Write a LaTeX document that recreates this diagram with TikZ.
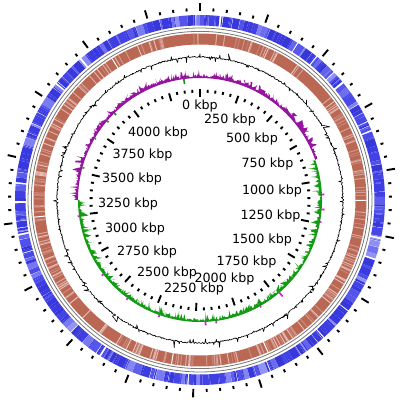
\documentclass[tikz,border=0pt]{standalone}
\usepackage{fontspec}
\setmainfont{DejaVu Sans}
\definecolor{skewpos}{RGB}{150,20,160}
\definecolor{skewneg}{RGB}{20,155,20}
\definecolor{skewdot}{RGB}{205,40,205}
\definecolor{ringgray}{RGB}{120,120,120}
\definecolor{brownbase}{RGB}{186,104,84}
\begin{document}
\begin{tikzpicture}[x=1pt,y=1pt,
  lbl/.style={font=\fontsize{12.7}{14}\selectfont, inner sep=0pt, anchor=center},
  tickmark/.style={line width=1.9pt},
  gcline/.style={black, line width=0.6pt, line join=round},
  backbone/.style={ringgray, line width=0.8pt}]
\useasboundingbox[fill=white] (-200,-200) rectangle (200,200);

% ---------- blue feature ring ----------
\pgfmathsetseed{11}
\gdef\curpos{0}
\foreach \i in {1,...,440}{%
  \pgfmathsetmacro\blen{0.3+2.4*rnd^2}%
  \pgfmathsetmacro\bgap{(rnd<0.2)*(0.12+0.6*rnd^3)}%
  \pgfmathsetmacro\bt{rnd}%
  \pgfmathsetmacro\bs{\curpos}%
  \pgfmathsetmacro\be{min(\curpos+\blen,360)}%
  \pgfmathtruncatemacro\brg{55+95*\bt^3}%
  \pgfmathtruncatemacro\bbb{215+30*\bt}%
  \definecolor{bseg}{RGB}{\brg,\brg,\bbb}%
  \ifdim\bs pt<359.9pt
    \pgfmathsetmacro\as{90-\bs}\pgfmathsetmacro\ae{90-\be}%
    \draw[bseg, line width=10.5pt] (\as:179.75) arc[start angle=\as, end angle=\ae, radius=179.75];%
  \fi
  \pgfmathsetmacro\np{\curpos+\blen+\bgap}%
  \xdef\curpos{\np}%
}

% ---------- backbone circles ----------
\draw[backbone] (0,0) circle[radius=168.6];
\draw[backbone] (0,0) circle[radius=172];

% ---------- brown feature ring ----------
\draw[brownbase, line width=11pt] (0,0) circle[radius=161];
\pgfmathsetseed{5}
\foreach \i in {0,...,1028}{%
  \pgfmathsetmacro\as{90-\i*0.35}%
  \pgfmathsetmacro\ae{\as-0.35}%
  \pgfmathsetmacro\bs{rnd}%
  \pgfmathsetmacro\gp{rnd}%
  \pgfmathtruncatemacro\cr{195+40*\gp}%
  \pgfmathtruncatemacro\cg{125+75*\gp}%
  \pgfmathtruncatemacro\cb{110+85*\gp}%
  \definecolor{rseg}{RGB}{\cr,\cg,\cb}%
  \ifdim\bs pt>0.993pt
    \draw[white, line width=11pt] (\as:161) arc[start angle=\as, end angle=\ae, radius=161];%
  \else\ifdim\bs pt>0.78pt
    \draw[rseg, line width=11pt] (\as:161) arc[start angle=\as, end angle=\ae, radius=161];%
  \fi\fi
}

% ---------- GC content ----------
\pgfmathsetseed{3}
\draw[gcline] plot[domain=90:-270, samples=1400]
  (\x:{143+1.4*(rnd-0.5)+(rnd<0.06)*(8*rnd-4)+(rnd<0.015)*(16*rnd-8)}) -- cycle;

% ---------- GC skew ----------
\pgfmathsetseed{9}
\fill[skewpos] plot[domain=19:180, samples=460]
  (\x:{122+0.8+2.6*rnd+7*rnd^5}) -- (180:122)
  arc[start angle=180, end angle=19, radius=122] -- cycle;
\fill[skewneg] plot[domain=-180:19, samples=580]
  (\x:{122-0.8-2.6*rnd-7*rnd^5}) -- (19:122)
  arc[start angle=19, end angle=-180, radius=122] -- cycle;
\foreach \t/\h in {87/2.5, 94/3, 100/1.5, 139/5, 150/1.5, 172/2.5, 177/3.5, 199/2, 216/2, 232/2, 262/1.5}{%
  \pgfmathsetmacro\aa{90-\t}%
  \pgfmathsetmacro\ab{\aa-0.8}%
  \fill[skewdot] (\aa:122) -- (\aa:{122+\h}) -- (\ab:{122+\h}) -- (\ab:122) -- cycle;
}
\foreach \t/\h in {352/5, 315/2.5, 310/2, 300/1.5, 285/2}{%
  \pgfmathsetmacro\aa{90-\t}%
  \pgfmathsetmacro\ab{\aa-0.8}%
  \fill[skewneg] (\aa:122) -- (\aa:{122-\h}) -- (\ab:{122-\h}) -- (\ab:122) -- cycle;
}

% ---------- rulers ----------
\foreach \i in {0,...,88}{%
  \pgfmathsetmacro\ang{90-\i*4.04494}%
  \pgfmathtruncatemacro\ismaj{mod(\i,5)==0}%
  \ifnum\ismaj=1
    \draw[tickmark] (\ang:103) -- (\ang:111);
    \draw[tickmark] (\ang:189) -- (\ang:197.5);
  \else
    \draw[tickmark] (\ang:107.5) -- (\ang:110.5);
    \draw[tickmark] (\ang:189) -- (\ang:192);
  \fi
}

% ---------- labels ----------
\node[lbl] (k0)    at (0,94)       {0 kbp};
\node[lbl] (k250)  at (30,80)      {250 kbp};
\node[lbl] (k500)  at (52,61)      {500 kbp};
\node[lbl] (k750)  at (67.5,36)    {750 kbp};
\node[lbl] (k1000) at (72,9)       {1000 kbp};
\node[lbl] (k1250) at (70.5,-16)   {1250 kbp};
\node[lbl] (k1500) at (62,-40)     {1500 kbp};
\node[lbl] (k1750) at (46.5,-61.5) {1750 kbp};
\node[lbl] (k2000) at (24.5,-79)   {2000 kbp};
\node[lbl] (k2250) at (-6,-89)     {2250 kbp};
\node[lbl] (k2500) at (-33,-72.5)  {2500 kbp};
\node[lbl] (k2750) at (-53,-52)    {2750 kbp};
\node[lbl] (k3000) at (-65,-28.5)  {3000 kbp};
\node[lbl] (k3250) at (-72,-3.5)   {3250 kbp};
\node[lbl] (k3500) at (-68,21.5)   {3500 kbp};
\node[lbl] (k3750) at (-57.5,45.5) {3750 kbp};
\node[lbl] (k4000) at (-42,67)     {4000 kbp};
\end{tikzpicture}
\end{document}
